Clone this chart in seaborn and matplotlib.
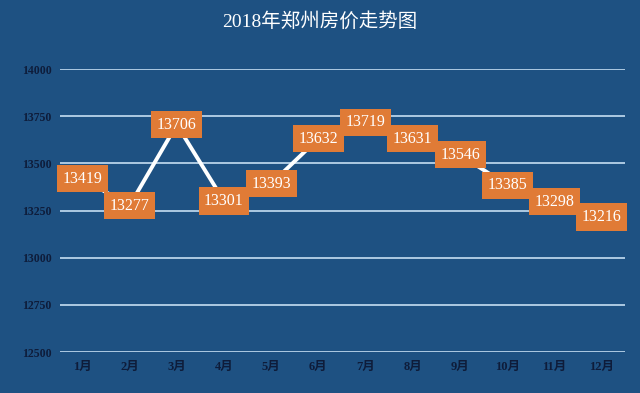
import matplotlib
matplotlib.use('Agg')
import matplotlib.pyplot as plt
import seaborn as sns
import pandas as pd

# Data
months = ['1月', '2月', '3月', '4月', '5月', '6月', '7月', '8月', '9月', '10月', '11月', '12月']
prices = [13419, 13277, 13706, 13301, 13393, 13632, 13719, 13631, 13546, 13385, 13298, 13216]
y_ticks = [12500, 12750, 13000, 13250, 13500, 13750, 14000]
title = '2018年郑州房价走势图'

df = pd.DataFrame({'month': months, 'price': prices})
df['pos'] = range(len(months))

bg = '#1e5182'
sns.set_style('white')
plt.rcParams['font.family'] = ['Liberation Serif', 'Noto Sans CJK SC', 'DejaVu Sans']

fig = plt.figure(figsize=(6.4, 3.93), dpi=100, facecolor=bg)
ax = fig.add_axes([0.094, 0.104, 0.883, 0.72])
ax.set_facecolor(bg)

# gridlines
for t in y_ticks:
    ax.axhline(t, color='#b9d3ea', lw=1.3, zorder=1)

sns.lineplot(data=df, x='pos', y='price', color='white', lw=2.8, ax=ax, zorder=2)

# orange value boxes
for x, y in zip(df['pos'], df['price']):
    ax.text(x, y, str(y), ha='center', va='center', color='white', fontsize=11.5,
            family=['Liberation Serif'], zorder=3,
            bbox=dict(boxstyle='square,pad=0.35', fc='#e07b36', ec='none'))

ax.set_xlim(-0.47, 11.5)
ax.set_ylim(12500, 14000)
ax.set_xticks(df['pos'])
ax.set_xticklabels(months, fontsize=9, fontweight='bold', color='#0e1c3a')
ax.set_yticks(y_ticks)
ax.set_yticklabels([str(t) for t in y_ticks], fontsize=8.5, fontweight='bold', color='#0e1c3a')
ax.tick_params(length=0, pad=6)
ax.set_xlabel('')
ax.set_ylabel('')
sns.despine(ax=ax, left=True, bottom=True)

fig.text(0.5, 0.945, title, ha='center', va='center', color='white', fontsize=14,
         family=['Liberation Serif', 'Noto Sans CJK SC'])

fig.savefig('out.png', dpi=100, facecolor=bg)
